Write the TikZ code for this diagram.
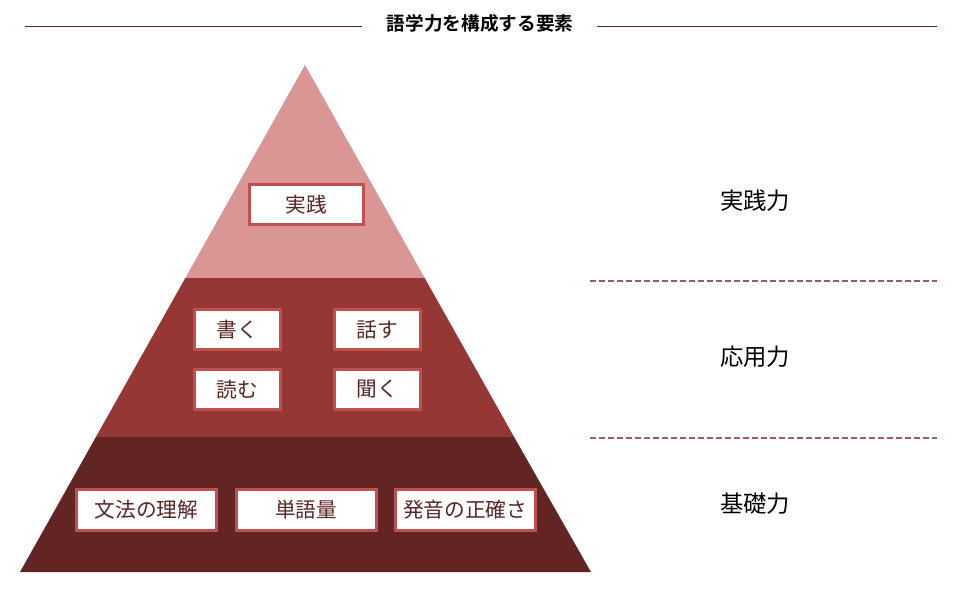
\documentclass[tikz,border=0pt]{standalone}
\usepackage{fontspec}
\setmainfont{Noto Sans CJK JP}[BoldFont={Noto Sans CJK JP Bold}]
\definecolor{toplayer}{HTML}{D99694}
\definecolor{midlayer}{HTML}{953735}
\definecolor{baselayer}{HTML}{632523}
\definecolor{boxedge}{HTML}{C0504D}
\definecolor{boxtext}{HTML}{5A2526}
\definecolor{rulecol}{HTML}{632523}
\definecolor{dashcol}{HTML}{A05A5A}
\tikzset{
  skillbox/.style={draw=boxedge, line width=2.25pt, fill=white, text=boxtext,
    minimum height=30pt, inner sep=0pt, font=\fontsize{15.5}{18}\selectfont},
  levellabel/.style={text=black, font=\fontsize{17.5}{21}\selectfont},
  layersep/.style={dashcol, line width=1.5pt, dash pattern=on 4.5pt off 2.25pt}
}
\begin{document}
\begin{tikzpicture}[x=0.75pt, y=-0.75pt]
  \useasboundingbox (0,0) rectangle (960,599);

  % Title with rules
  \node[font=\fontsize{14}{16}\selectfont\bfseries] (title) at (480,23) {語学力を構成する要素};
  \coordinate (tl) at (25,27);
  \coordinate (tr) at (937,27);
  \draw[rulecol, line width=0.75pt] (tl) -- (362,27);
  \draw[rulecol, line width=0.75pt] (597,27) -- (tr);

  % Pyramid layers
  \fill[toplayer] (305,65) -- (424.7,278) -- (185.3,278) -- cycle;
  \fill[midlayer] (185.3,278) -- (424.7,278) -- (514.1,437) -- (95.9,437) -- cycle;
  \fill[baselayer] (95.9,437) -- (514.1,437) -- (591,572) -- (20,572) -- cycle;

  % Top layer
  \node[skillbox, minimum width=85pt] (jissen) at (306.5,204.5) {実践};

  % Middle layer
  \node[skillbox, minimum width=64.5pt] (kaku) at (237.5,329.5) {書く};
  \node[skillbox, minimum width=64.5pt] (hanasu) at (377.5,329.5) {話す};
  \node[skillbox, minimum width=64.5pt] (yomu) at (237.5,389.5) {読む};
  \node[skillbox, minimum width=64.5pt] (kiku) at (377.5,389.5) {聞く};

  % Base layer
  \node[skillbox, minimum width=105pt, minimum height=31pt] (bunpo) at (146.5,510) {文法の理解};
  \node[skillbox, minimum width=105pt, minimum height=31pt] (goi) at (306,510) {単語量};
  \node[skillbox, minimum width=105pt, minimum height=31pt] (hatsuon) at (465,510) {発音の正確さ};

  % Level labels
  \node[levellabel] (jissenryoku) at (755,201) {実践力};
  \node[levellabel] (oyoryoku) at (755,357) {応用力};
  \node[levellabel] (kisoryoku) at (755,504) {基礎力};

  % Separators
  \draw[layersep] (590,281) -- (937,281);
  \draw[layersep] (590,438) -- (937,438);
\end{tikzpicture}
\end{document}
